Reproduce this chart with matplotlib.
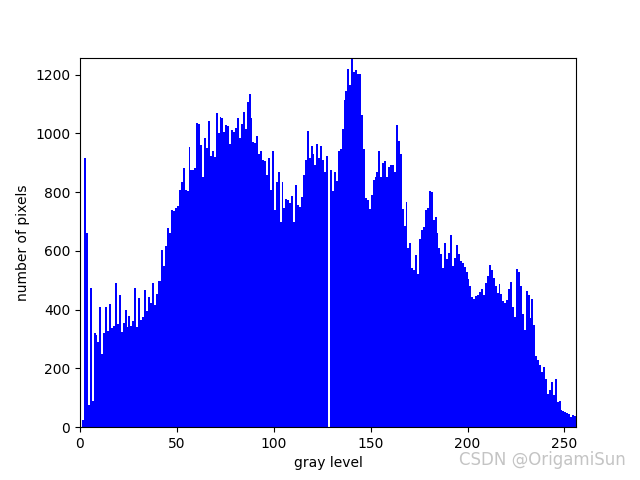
# gray level histogram (256 bins)
import matplotlib
matplotlib.use("Agg")
import matplotlib.pyplot as plt
import numpy as np

levels = np.arange(256)

counts = [
    0, 25, 916, 660, 75, 473, 89, 319, 314, 291,
    408, 249, 319, 408, 327, 419, 336, 344, 491, 351,
    451, 325, 355, 399, 341, 378, 343, 361, 473, 341,
    440, 366, 374, 467, 395, 444, 422, 491, 416, 453,
    498, 498, 603, 549, 617, 678, 661, 740, 736, 745,
    753, 808, 833, 882, 808, 805, 955, 876, 876, 882,
    1035, 1033, 961, 850, 986, 950, 1041, 922, 939, 918,
    1070, 1002, 1057, 1053, 1006, 1030, 1024, 965, 1013, 1006,
    1020, 1053, 983, 1033, 1074, 1016, 1108, 1135, 1053, 972,
    968, 992, 930, 941, 910, 907, 857, 917, 808, 941,
    740, 835, 869, 700, 835, 747, 777, 772, 764, 786,
    700, 825, 757, 751, 784, 859, 910, 1009, 917, 958,
    930, 893, 965, 917, 958, 910, 868, 924, 0, 876,
    805, 869, 839, 941, 948, 1016, 1115, 1145, 1220, 1166,
    1258, 1210, 1217, 1203, 1203, 1064, 948, 780, 774, 743,
    791, 842, 852, 870, 941, 852, 900, 907, 852, 886,
    893, 893, 869, 1030, 975, 931, 743, 685, 767, 611,
    627, 542, 535, 586, 522, 641, 672, 682, 740, 747,
    805, 801, 706, 716, 661, 610, 590, 542, 627, 573,
    593, 655, 549, 576, 620, 590, 566, 559, 545, 528,
    505, 481, 443, 436, 447, 450, 460, 470, 450, 491,
    515, 552, 535, 508, 481, 457, 488, 453, 430, 423,
    433, 470, 494, 409, 374, 539, 528, 481, 385, 331,
    464, 450, 372, 436, 348, 242, 228, 211, 188, 205,
    164, 113, 126, 153, 109, 164, 85, 89, 58, 55,
    51, 48, 44, 34, 41, 38,
]

fig = plt.figure(figsize=(6.4, 4.8), dpi=100)
plt.hist(levels, bins=256, range=(0, 256), weights=counts, color='b')
plt.xlim(0, 256)
plt.ylim(0, max(counts))
plt.xlabel("gray level")
plt.ylabel("number of pixels")

# watermark in the lower right corner
fig.text(0.978, 0.022, "CSDN @OrigamiSun", ha='right', va='bottom',
         color='#c4c4c4', fontsize=12)

plt.savefig("out.png")
